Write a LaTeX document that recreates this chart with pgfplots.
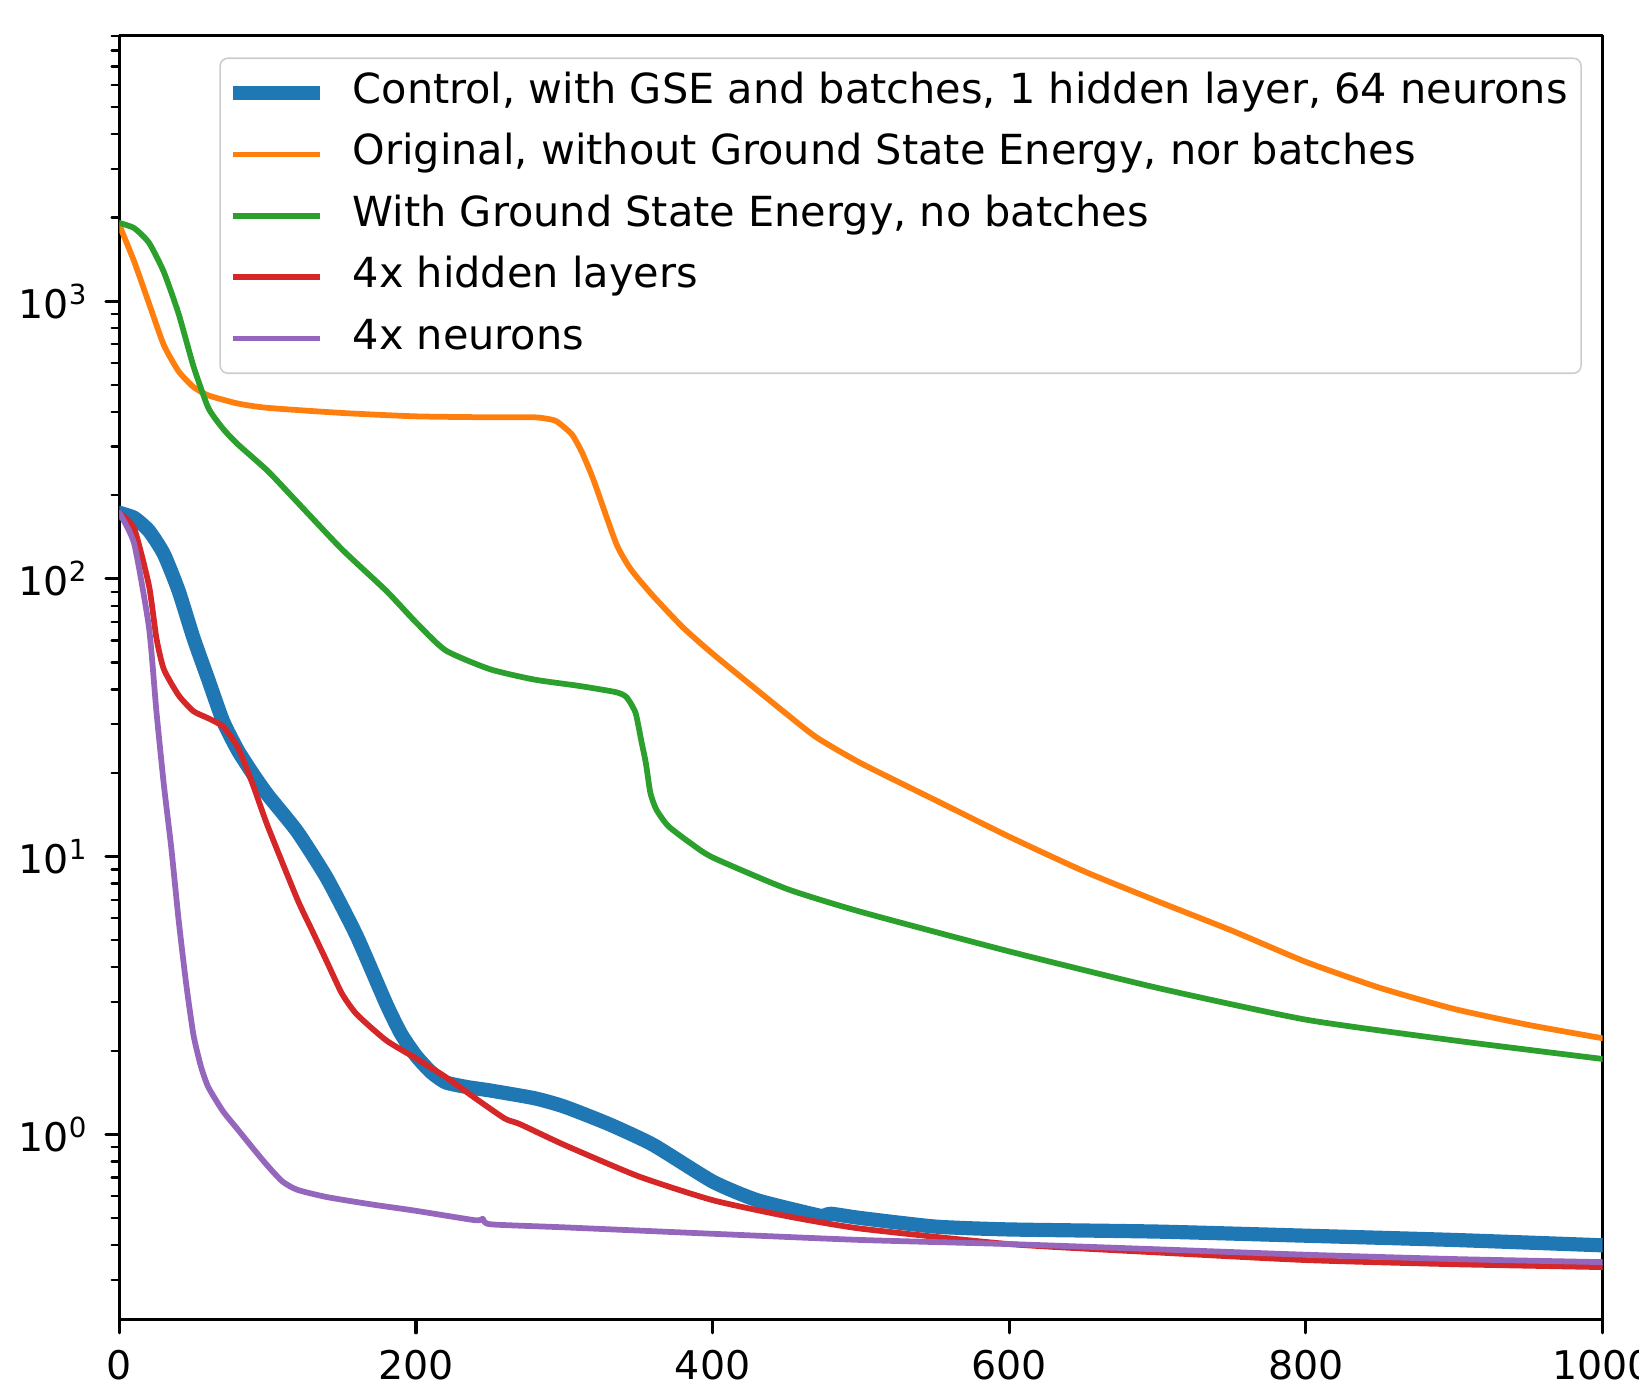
\documentclass[border=0pt]{standalone}
\usepackage{pgfplots}
\pgfplotsset{compat=1.18}
\usepackage{fontspec}
\setmainfont{DejaVu Sans}
\definecolor{tabblue}{HTML}{1F77B4}
\definecolor{taborange}{HTML}{FF7F0E}
\definecolor{tabgreen}{HTML}{2CA02C}
\definecolor{tabred}{HTML}{D62728}
\definecolor{tabpurple}{HTML}{9467BD}
\begin{document}
\begin{tikzpicture}
\begin{axis}[
  scale only axis,
  width=386.6pt, height=334.6pt,
  ymode=log,
  xmin=0, xmax=1000,
  ymin=0.2158, ymax=9035,
  xtick={0,200,400,600,800,1000},
  xticklabels={0,200,400,600,800,1000},
  ytick={1,10,100,1000},
  yticklabels={10\textsuperscript{0},10\textsuperscript{1},10\textsuperscript{2},10\textsuperscript{3}},
  minor ytick={0.3,0.4,0.5,0.6,0.7,0.8,0.9,2,3,4,5,6,7,8,9,20,30,40,50,60,70,80,90,200,300,400,500,600,700,800,900,2000,3000,4000,5000,6000,7000,8000,9000},
  tick align=outside,
  xtick pos=bottom, ytick pos=left,
  major tick length=3.5pt, minor tick length=2pt,
  every tick/.style={black, line width=0.8pt},
  minor tick style={black, line width=0.6pt},
  axis line style={line width=0.8pt},
  tick label style={font=\fontsize{10.3}{12}\selectfont},
  xticklabel style={yshift=-1pt},
  yticklabel style={xshift=-1pt},
  legend cell align=left,
  legend style={at={(0.986,0.983)}, anchor=north east,
    draw=black!20, rounded corners=2pt, fill=white, fill opacity=0.8, text opacity=1,
    font=\fontsize{10.8}{13}\selectfont,
    inner xsep=1.5pt, inner ysep=3.5pt, row sep=4.9pt,
    nodes={inner ysep=0.5pt, text height=7.8pt, text depth=2.3pt}},
  legend image code/.code={\draw[#1] (0cm,0cm) -- (0.8cm,0cm); \path (0.8cm+4.6pt,0cm);},
  line join=round, line cap=round,
  every axis plot/.append style={smooth, tension=0.35},
]
\addplot[tabblue, line width=3.7pt] coordinates {
(0,173)(10,166)(20,149)(30,123)(40,90.6)(50,61.3)(60,43.4)(70,30.7)(80,24.1)(90,19.9)(100,16.7)(120,12.3)(140,8.36)(160,5.19)(180,2.95)(190,2.3)(200,1.92)(210,1.68)(220,1.54)(235,1.48)(250,1.44)(280,1.35)(300,1.26)(330,1.09)(360,0.917)(400,0.677)(430,0.580)(470,0.513)(475,0.51)(480,0.518)(500,0.500)(550,0.466)(600,0.455)(700,0.447)(800,0.432)(900,0.417)(1000,0.399)
};
\addlegendentry{Control, with GSE and batches, 1 hidden layer, 64 neurons}
\addplot[taborange, line width=1.5pt] coordinates {
(0,1880)(10,1390)(20,982)(30,695)(40,559)(50,491)(60,458)(80,428)(100,413)(150,396)(200,385)(250,382)(280,382)(290,376)(295,369)(305,332)(312,285)(320,225)(335,134)(345,108)(360,86.7)(380,66.9)(400,53.8)(430,39.8)(450,32.6)(470,26.9)(500,21.7)(550,16.0)(600,11.8)(650,8.88)(700,6.91)(750,5.42)(800,4.18)(850,3.37)(900,2.83)(950,2.48)(1000,2.22)
};
\addlegendentry{Original, without Ground State Energy, nor batches}
\addplot[tabgreen, line width=1.5pt] coordinates {
(0,1914)(10,1833)(20,1623)(30,1274)(40,900)(50,583)(60,413)(70,347)(80,305)(100,245)(120,189)(150,128)(180,90.6)(200,69.8)(220,55.3)(250,47.3)(280,43.4)(310,41.2)(335,39.1)(342,37.5)(348,33)(352,26)(355,21.7)(358,17)(362,14.8)(370,12.9)(385,11.2)(400,9.94)(450,7.66)(500,6.33)(600,4.56)(700,3.37)(800,2.59)(900,2.18)(1000,1.87)
};
\addlegendentry{With Ground State Energy, no batches}
\addplot[tabred, line width=1.5pt] coordinates {
(0,173)(10,152)(20,94.6)(25,61.3)(30,47.3)(40,38.1)(50,33.4)(60,31.5)(70,29.4)(80,24.7)(90,18.2)(100,12.9)(120,7.03)(130,5.42)(140,4.18)(150,3.22)(160,2.71)(180,2.18)(200,1.88)(220,1.61)(240,1.35)(260,1.14)(270,1.09)(300,0.917)(350,0.707)(400,0.580)(450,0.508)(500,0.458)(600,0.403)(700,0.376)(800,0.353)(900,0.341)(1000,0.333)
};
\addlegendentry{4x hidden layers}
\addplot[tabpurple, line width=1.5pt] coordinates {
(0,173)(10,134)(20,66.9)(25,33.4)(30,18.2)(35,10.8)(40,5.91)(45,3.51)(50,2.28)(55,1.76)(60,1.48)(70,1.21)(80,1.04)(90,0.893)(100,0.771)(110,0.677)(120,0.632)(140,0.595)(170,0.560)(200,0.531)(240,0.491)(245,0.497)(250,0.475)(300,0.463)(400,0.439)(500,0.417)(600,0.403)(700,0.386)(800,0.369)(900,0.356)(1000,0.347)
};
\addlegendentry{4x neurons}
\end{axis}
\pgfresetboundingbox
\path ([xshift=-31.1pt,yshift=-18.3pt]current axis.south west) rectangle ([xshift=9.5pt,yshift=9.3pt]current axis.north east);
\end{tikzpicture}
\end{document}
